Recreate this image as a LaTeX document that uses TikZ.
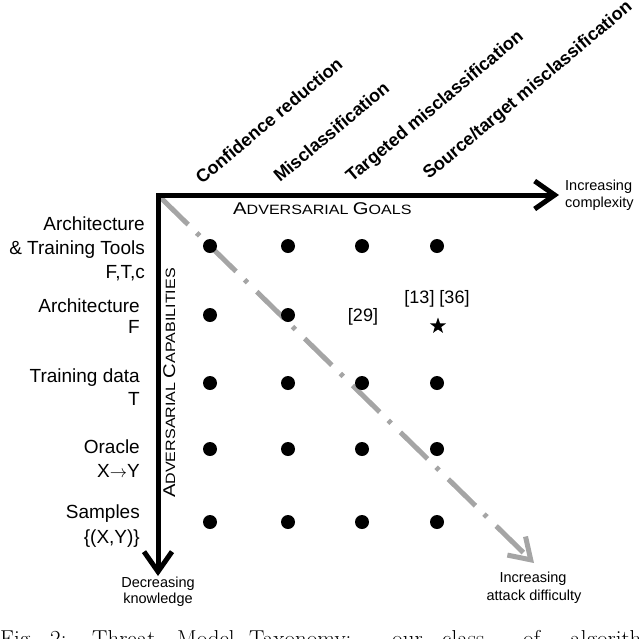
\documentclass[tikz,border=0pt]{standalone}
\usepackage{fontspec}
\newfontfamily\arial{Liberation Sans}
\usetikzlibrary{arrows.meta,shapes.geometric}
\definecolor{diaggray}{RGB}{165,165,165}
\newcommand\bigC[1]{{\fontsize{17}{20}\selectfont #1}}
\newcommand\smC[1]{{\fontsize{13.5}{16}\selectfont #1}}
\tikzset{
  dot/.style={circle, fill=black, inner sep=0pt, minimum size=14pt},
  axisline/.style={line width=5pt, black,
    {Straight Barb[length=20pt,width=28pt]}-{Straight Barb[length=20pt,width=28pt]}},
  diag/.style={line width=5pt, diaggray, dash pattern=on 38pt off 12pt on 4pt off 13pt,
    -{Straight Barb[length=20pt,width=26pt]}},
  lab/.style={font=\arial\fontsize{19}{24}\selectfont, inner sep=0pt, anchor=base east},
  goal/.style={font=\arial\bfseries\fontsize{18}{22}\selectfont, rotate=40, anchor=base west, inner sep=0pt},
  small/.style={font=\arial\fontsize{14.5}{17}\selectfont, inner sep=0pt},
  ref/.style={font=\arial\fontsize{18}{22}\selectfont, inner sep=0pt},
  sctext/.style={font=\arial\fontsize{13.5}{16}\selectfont, inner sep=0pt, anchor=base west},
  captext/.style={font=\fontsize{23}{28}\selectfont, inner sep=0pt, anchor=base west},
  starmark/.style={star, star points=5, star point ratio=2.5, fill=black, inner sep=0pt, minimum size=17pt},
}
\begin{document}
\begin{tikzpicture}[x=1pt,y=-1pt]
\path[use as bounding box] (0,0) rectangle (640,638);
\clip (0,0) rectangle (640,638);
% axes and diagonal
\coordinate (O) at (158,195);
\coordinate (xe) at (559,195);
\coordinate (ye) at (158,576);
\coordinate (ds) at (161,198);
\coordinate (de) at (534,563);
\draw[diag] (ds) -- (de);
\draw[axisline] (ye) -- (O) -- (xe);
% dots
\foreach \x [count=\c] in {210,288,362,437}{
  \foreach \y [count=\r] in {246,315,383,449,522}{
    \ifnum\r=2 \ifnum\c>2 \else \node[dot] (d\c\r) at (\x,\y) {}; \fi
    \else \node[dot] (d\c\r) at (\x,\y) {}; \fi
  }
}
\node[starmark] (st) at (438,326) {};
\node[ref] (r29) at (363,317) {[29]};
\node[ref] (r1336) at (437,299) {[13] [36]};
% goals
\node[goal] (g1) at (202,185) {Confidence reduction};
\node[goal] (g2) at (280,183) {Misclassification};
\node[goal] (g3) at (352,183) {Targeted misclassification};
\node[goal] (g4) at (429,180) {Source/target misclassification};
\node[sctext] (ag) at (233,214) {\scalebox{1.19}[1]{\bigC{A}\smC{DVERSARIAL} \bigC{G}\smC{OALS}}};
\node[sctext, rotate=90] (ac) at (175,498) {\scalebox{1.19}[1]{\bigC{A}\smC{DVERSARIAL} \bigC{C}\smC{APABILITIES}}};
% capabilities
\node[lab] (a1) at (145,230) {Architecture};
\node[lab] (a2) at (145,254) {\& Training Tools};
\node[lab] (a3) at (145,278) {F,T,c};
\node[lab] (b1) at (140,312) {Architecture};
\node[lab] (b2) at (140,333) {F};
\node[lab] (t1) at (140,382) {Training data};
\node[lab] (t2) at (140,405) {T};
\node[lab] (o1) at (140,453) {Oracle};
\node[lab] (o2) at (140,477) {X$\rightarrow$Y};
\node[lab] (s1) at (140,518) {Samples};
\node[lab] (s2) at (140,543) {\{(X,Y)\}};
% small labels
\node[small, anchor=base west] (ic1) at (565,190) {Increasing};
\node[small, anchor=base west] (ic2) at (565,207) {complexity};
\node[small, anchor=base] (dk1) at (158,587) {Decreasing};
\node[small, anchor=base] (dk2) at (158,603) {knowledge};
\node[small, anchor=base] (ia1) at (533,582) {Increasing};
\node[small, anchor=base] (ia2) at (534,600) {attack difficulty};
% caption (cut off)
\foreach \w/\x [count=\i] in {Fig./0, 2:/50, Threat/92, Model/177, Taxonomy:/249, our/392, class/442, of/523, algorithms/570}{
  \node[captext] (c\i) at (\x,646) {\w};
}
\end{tikzpicture}
\end{document}
